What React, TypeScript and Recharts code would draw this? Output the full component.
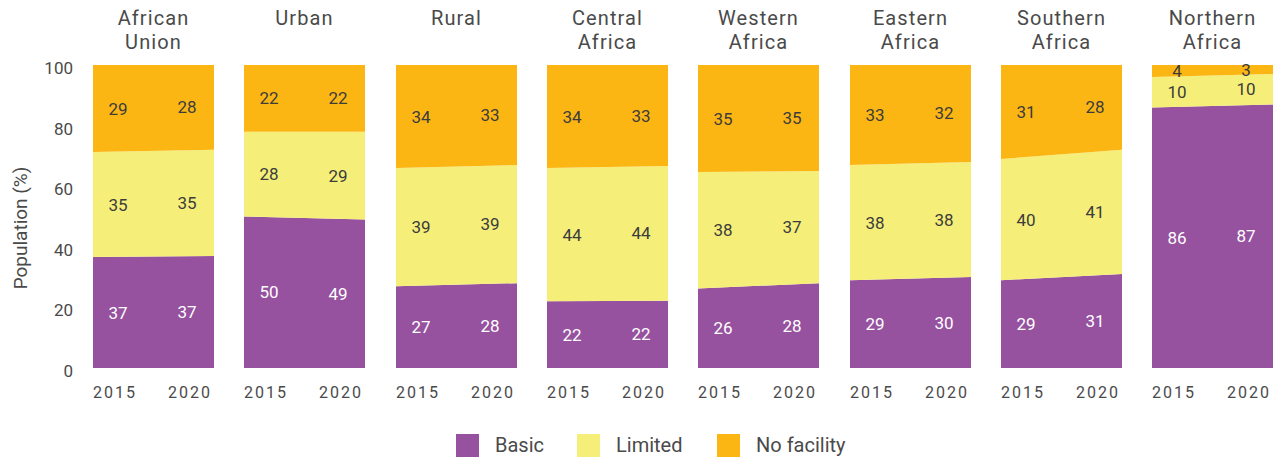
import React from "react";
import { Area, ComposedChart, LabelList, Line, XAxis, YAxis } from "recharts";

// Access to sanitation by region, 2015 vs 2020, stacked to 100%.
const TITLES = [
  ["African", "Union"],
  ["Urban"],
  ["Rural"],
  ["Central", "Africa"],
  ["Western", "Africa"],
  ["Eastern", "Africa"],
  ["Southern", "Africa"],
  ["Northern", "Africa"],
];
const YEARS = [2015, 2020];
const BASIC = [[37, 37], [50, 49], [27, 28], [22, 22], [26, 28], [29, 30], [29, 31], [86, 87]];
const LIMITED = [[35, 35], [28, 29], [39, 39], [44, 44], [38, 37], [38, 38], [40, 41], [10, 10]];
const NO_FACILITY = [[29, 28], [22, 22], [34, 33], [34, 33], [35, 35], [33, 32], [31, 28], [4, 3]];
const Y_TICKS = [0, 0.2, 0.4, 0.6, 0.8, 1];

const PURPLE = "#96519f";
const YELLOW = "#f5ef7a";
const ORANGE = "#fcb614";
const TEXT = "#4a4a4a";
const FONT = "Roboto, 'Noto Sans', sans-serif";

const PLOT_TOP = 65;
const PLOT_H = 303;
const PANEL_W = 121;
const Y_AXIS_W = 93;
const CHART_H = PLOT_TOP + PLOT_H + 40;

function panelRows(i: number) {
  return YEARS.map((year, j) => {
    const b = BASIC[i][j];
    const l = LIMITED[i][j];
    const n = NO_FACILITY[i][j];
    const t = b + l + n;
    return {
      year,
      basic: b,
      limited: l,
      none: n,
      basicMid: b / 2 / t,
      limitedMid: (b + l / 2) / t,
      noneMid: (b + l + n / 2) / t,
    };
  });
}

function valueLabel(values: number[], fill: string) {
  return (props: any) => {
    const { x, y, index } = props;
    const dx = index === 0 ? 25 : -27;
    return (
      <text
        x={x + dx}
        y={y}
        textAnchor="middle"
        dominantBaseline="central"
        fill={fill}
        fontSize={17}
        fontFamily={FONT}
      >
        {values[index]}
      </text>
    );
  };
}

function XTick(props: any) {
  const { x, y, payload } = props;
  const first = payload.value === YEARS[0];
  return (
    <text
      x={first ? x + 22 : x - 24}
      y={y + 24}
      textAnchor="middle"
      dominantBaseline="central"
      fill={TEXT}
      fontSize={16}
      letterSpacing={2}
      fontFamily={FONT}
    >
      {payload.value}
    </text>
  );
}

function YTick(props: any) {
  const { x, y, payload } = props;
  return (
    <text
      x={x}
      y={y + 3}
      textAnchor="end"
      dominantBaseline="central"
      fill={TEXT}
      fontSize={17}
      fontFamily={FONT}
    >
      {Math.round(payload.value * 100)}
    </text>
  );
}

function Panel({ i, withAxis }: { i: number; withAxis: boolean }) {
  const rows = panelRows(i);
  const width = withAxis ? Y_AXIS_W + PANEL_W : PANEL_W;
  return (
    <ComposedChart
      width={width}
      height={CHART_H}
      data={rows}
      stackOffset="expand"
      margin={{ top: PLOT_TOP, right: 0, bottom: 0, left: 0 }}
    >
      <XAxis
        dataKey="year"
        type="number"
        domain={[2015, 2020]}
        ticks={YEARS}
        interval={0}
        tick={<XTick />}
        tickSize={0}
        tickMargin={0}
        axisLine={false}
        tickLine={false}
        height={40}
      />
      <YAxis
        hide={!withAxis}
        width={Y_AXIS_W}
        domain={[0, 1]}
        ticks={Y_TICKS}
        tick={<YTick />}
        tickSize={0}
        tickMargin={20}
        axisLine={false}
        tickLine={false}
        allowDataOverflow
        label={{
          content: () => (
            <text
              x={20}
              y={228}
              transform="rotate(-90 20 228)"
              textAnchor="middle"
              dominantBaseline="central"
              fill={TEXT}
              fontSize={19}
              fontFamily={FONT}
            >
              Population (%)
            </text>
          ),
        }}
      />
      <Area type="linear" dataKey="basic" stackId="a" fill={PURPLE} fillOpacity={1} stroke="none" isAnimationActive={false} />
      <Area type="linear" dataKey="limited" stackId="a" fill={YELLOW} fillOpacity={1} stroke="none" isAnimationActive={false} />
      <Area type="linear" dataKey="none" stackId="a" fill={ORANGE} fillOpacity={1} stroke="none" isAnimationActive={false} />
      <Line dataKey="basicMid" stroke="none" dot={false} activeDot={false} isAnimationActive={false}>
        <LabelList content={valueLabel(BASIC[i], "#ffffff")} />
      </Line>
      <Line dataKey="limitedMid" stroke="none" dot={false} activeDot={false} isAnimationActive={false}>
        <LabelList content={valueLabel(LIMITED[i], "#3c3c3c")} />
      </Line>
      <Line dataKey="noneMid" stroke="none" dot={false} activeDot={false} isAnimationActive={false}>
        <LabelList content={valueLabel(NO_FACILITY[i], "#3c3c3c")} />
      </Line>
    </ComposedChart>
  );
}

const LEGEND = [
  { name: "Basic", color: PURPLE, left: 456 },
  { name: "Limited", color: YELLOW, left: 577 },
  { name: "No facility", color: ORANGE, left: 717 },
];

export default function App() {
  return (
    <div
      style={{
        position: "absolute",
        left: 0,
        top: 0,
        width: 1282,
        height: 462,
        background: "#fff",
        fontFamily: FONT,
        color: TEXT,
        overflow: "hidden",
      }}
    >
      {TITLES.map((lines, i) => {
        const left = Math.round(93 + i * 151.3);
        return (
          <React.Fragment key={i}>
            <div
              style={{
                position: "absolute",
                left: left - 20,
                width: PANEL_W + 40,
                top: 6,
                textAlign: "center",
                fontSize: 20,
                lineHeight: "24px",
                letterSpacing: 1.1,
              }}
            >
              {lines.map((l) => (
                <div key={l}>{l}</div>
              ))}
            </div>
            <div style={{ position: "absolute", left: i === 0 ? 0 : left, top: 0 }}>
              <Panel i={i} withAxis={i === 0} />
            </div>
          </React.Fragment>
        );
      })}
      {LEGEND.map((item) => (
        <div
          key={item.name}
          style={{
            position: "absolute",
            left: item.left,
            top: 434,
            display: "flex",
            alignItems: "center",
            height: 23,
          }}
        >
          <div style={{ width: 23, height: 23, background: item.color }} />
          <span style={{ marginLeft: 16, fontSize: 20, lineHeight: "23px" }}>{item.name}</span>
        </div>
      ))}
    </div>
  );
}
